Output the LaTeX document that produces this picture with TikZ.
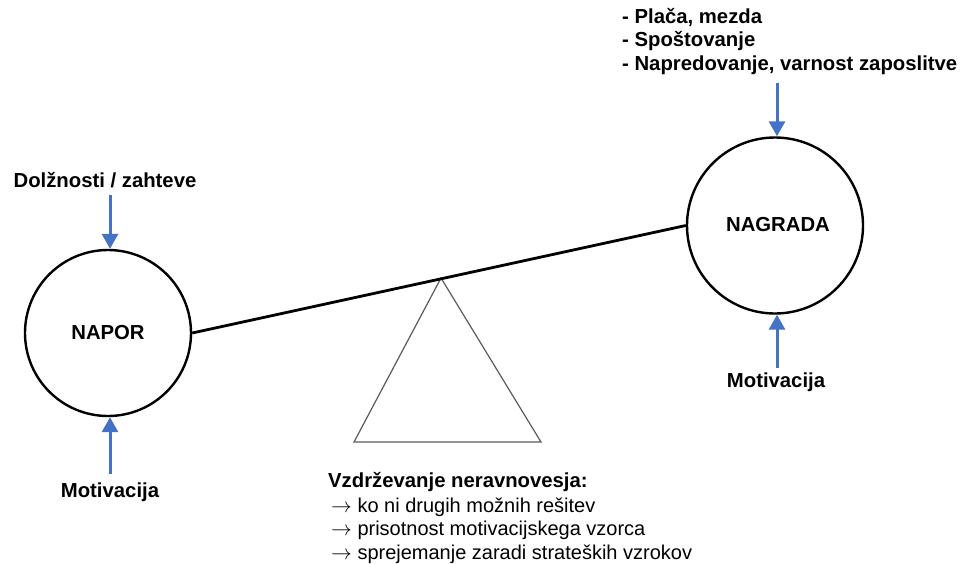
\documentclass[tikz,border=0pt]{standalone}
\usepackage{fontspec}
\setmainfont{Liberation Sans}
\usetikzlibrary{arrows.meta}
\definecolor{arrblue}{HTML}{4472C4}
\definecolor{trigray}{HTML}{5A5A5A}
\newcommand{\listarr}{$\rightarrow$}
\tikzset{
  ball/.style={circle,draw=black,line width=2.4pt,inner sep=0pt,fill=white},
  lbl/.style={font=\fontsize{20.3}{23.5}\selectfont\bfseries,inner sep=0pt},
  txt/.style={font=\fontsize{20}{23.5}\selectfont,inner sep=0pt},
  bluearrow/.style={draw=arrblue,line width=3pt,-{Triangle[width=16pt,length=15pt]}},
  beam/.style={draw=black,line width=2.8pt},
  pivot/.style={draw=trigray,line width=1.2pt,line join=miter}
}
\begin{document}
\begin{tikzpicture}[x=1pt,y=-1pt]
\useasboundingbox (0,0) rectangle (976,563);
% fulcrum
\coordinate (apex) at (441,278);
\coordinate (bl) at (354,442);
\coordinate (br) at (541,442);
\draw[pivot] (apex) -- (bl) -- (br) -- cycle;
% balls
\node[ball,minimum size=166pt] (napor) at (108,333) {};
\node[lbl] (naportext) at (napor.center) {NAPOR};
\node[ball,minimum size=176pt] (nagrada) at (775,225.5) {};
\node[lbl] (nagradatext) at (778,225) {NAGRADA};
% beam
\draw[beam] (napor.east) -- (nagrada.west);
% left labels
\node[lbl,anchor=base] (duty) at (105,187) {Dolžnosti / zahteve};
\node[lbl,anchor=base] (motl) at (110,497) {Motivacija};
\coordinate (dl) at (110,195);
\coordinate (ml) at (110,474);
\draw[bluearrow] (dl) -- (dl |- napor.north);
\draw[bluearrow] (ml) -- (ml |- napor.south);
% right labels
\node[lbl,anchor=base west,align=left] (rewards) at (622,70) {- Plača, mezda\\- Spoštovanje\\- Napredovanje, varnost zaposlitve};
\node[lbl,anchor=base] (motr) at (776,387) {Motivacija};
\coordinate (dr) at (777,83);
\coordinate (mr) at (777,368);
\draw[bluearrow] (dr) -- (dr |- nagrada.north);
\draw[bluearrow] (mr) -- (mr |- nagrada.south);
% bottom text
\node[lbl,anchor=base west] (imb) at (328,487) {Vzdrževanje neravnovesja:};
\node[txt,anchor=base west,align=left] (imblist) at (331,559) {\listarr{} ko ni drugih možnih rešitev\\\listarr{} prisotnost motivacijskega vzorca\\\listarr{} sprejemanje zaradi strateških vzrokov};
\end{tikzpicture}
\end{document}
